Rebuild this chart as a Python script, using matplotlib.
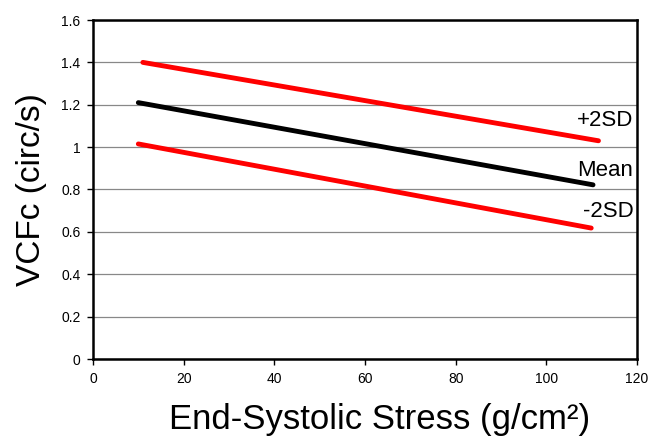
import matplotlib
matplotlib.use("Agg")
import matplotlib.pyplot as plt

plt.rcParams['font.family'] = ['Liberation Sans', 'DejaVu Sans']

plus2sd = [1.40, 1.03]
mean = [1.21, 0.822]
minus2sd = [1.015, 0.618]
x_plus = [11, 111.5]
x_mean = [10, 110.3]
x_minus = [10, 109.9]
labels = ["+2SD", "Mean", "-2SD"]
label_y = [1.128, 0.892, 0.694]

fig = plt.figure(figsize=(6.52, 4.36), dpi=100)
ax = fig.add_axes([93/652, 1 - 359/436, 544/652, 339/436])

ax.set_xlim(0, 120)
ax.set_ylim(0, 1.6)
ax.set_xticks(range(0, 121, 20))
ax.set_yticks([0, 0.2, 0.4, 0.6, 0.8, 1.0, 1.2, 1.4, 1.6])
ax.set_yticklabels(["0", "0.2", "0.4", "0.6", "0.8", "1", "1.2", "1.4", "1.6"])
ax.yaxis.grid(True, color='#888888', linewidth=0.9)
ax.set_axisbelow(True)
for s in ax.spines.values():
    s.set_linewidth(1.8)
    s.set_color('black')
ax.tick_params(direction='out', length=4, width=1, labelsize=10, pad=5)

ax.plot(x_plus, plus2sd, color='#ff0000', linewidth=3.5, solid_capstyle='round')
ax.plot(x_mean, mean, color='black', linewidth=3.5, solid_capstyle='round')
ax.plot(x_minus, minus2sd, color='#ff0000', linewidth=3.5, solid_capstyle='round')

for lab, yy in zip(labels, label_y):
    ax.text(119.2, yy, lab, ha='right', va='center', fontsize=16)

ax.set_xlabel("End-Systolic Stress (g/cm²)", fontsize=25)
ax.xaxis.label.set_va('baseline')
ax.xaxis.set_label_coords((380 - 93) / 544, (359 - 429) / 339)
ax.set_ylabel("VCFc (circ/s)", fontsize=24, labelpad=10)

fig.savefig("out.png", dpi=100)
